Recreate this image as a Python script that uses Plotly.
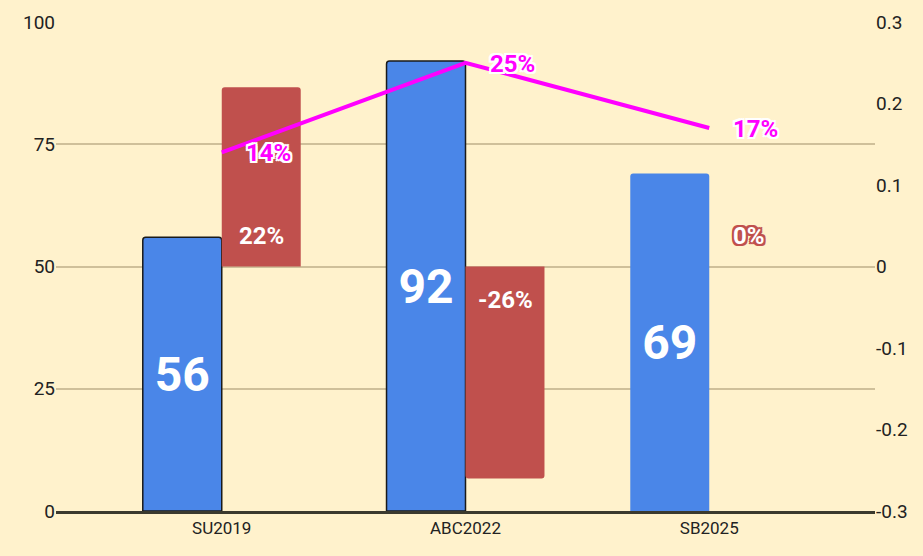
import plotly.graph_objects as go

categories = ["SU2019", "ABC2022", "SB2025"]
counts = [56, 92, 69]
changes = [0.22, -0.26, 0.0]
shares = [0.14, 0.25, 0.17]

left_ticks = [0, 25, 50, 75, 100]
right_ticks = [-0.3, -0.2, -0.1, 0, 0.1, 0.2, 0.3]
right_labels = ["-0.3", "-0.2", "-0.1", "0", "0.1", "0.2", "0.3"]

FONT = "Roboto, Liberation Sans Narrow, sans-serif"
BG = "#FFF2CC"
BLUE = "#4A86E8"
RED = "#C0504D"
MAGENTA = "#FF00FF"
W = 0.324


def outline(c, w=1):
    return ", ".join(f"{dx}px {dy}px 0 {c}" for dx in (-w, 0, w) for dy in (-w, 0, w) if dx or dy)


fig = go.Figure()

fig.add_trace(go.Bar(
    x=categories, y=counts, yaxis="y",
    width=W, offset=-W,
    marker=dict(color=BLUE, line=dict(color="#1a1a1a", width=[1.5, 1.5, 0])),
    text=[str(v) for v in counts], textposition="inside", insidetextanchor="middle",
    textfont=dict(family=FONT, size=48, color="white", weight="bold"),
    showlegend=False, hoverinfo="skip",
))

fig.add_trace(go.Bar(
    x=categories, y=changes, yaxis="y2",
    width=W, offset=0,
    marker=dict(color=RED, line=dict(width=0)),
    showlegend=False, hoverinfo="skip",
))

fig.add_trace(go.Scatter(
    x=categories, y=shares, yaxis="y2", mode="lines",
    line=dict(color=MAGENTA, width=4),
    showlegend=False, hoverinfo="skip",
))

# labels for the change bars, near the bar base
for cat, v in zip(categories, changes):
    lab = f"{round(v * 100):d}%"
    if v == 0:
        font = dict(family=FONT, size=24, color="white", weight="bold", shadow=outline(RED, 2))
    else:
        font = dict(family=FONT, size=24, color="white", weight="bold")
    fig.add_annotation(
        x=cat, y=0, xref="x", yref="y2", text=lab, showarrow=False,
        xshift=40, yshift=31 if v >= 0 else -33, font=font,
    )

# labels for the line, to the right of each point
for cat, v in zip(categories, shares):
    fig.add_annotation(
        x=cat, y=v, xref="x", yref="y2", text=f"{round(v * 100):d}%", showarrow=False,
        xanchor="left", xshift=22, yshift=-1,
        font=dict(family=FONT, size=24, color=MAGENTA, weight="bold", shadow=outline("white", 2)),
    )

fig.update_layout(
    width=923, height=556,
    paper_bgcolor=BG, plot_bgcolor=BG,
    margin=dict(l=56, r=48, t=22, b=45),
    barcornerradius=3,
    font=dict(family=FONT, size=18, color="#222222"),
    xaxis=dict(
        range=[-0.68, 2.68], showgrid=False, zeroline=False,
        showline=True, linecolor="#3b3a2e", linewidth=2.5,
        ticks="", tickfont=dict(size=17), automargin=False,
    ),
    yaxis=dict(
        range=[0, 100], tickvals=left_ticks, showgrid=True,
        gridcolor="#CFC09A", gridwidth=2, zeroline=False, showline=False,
        ticks="", tickfont=dict(size=19), automargin=False,
    ),
    yaxis2=dict(
        range=[-0.3, 0.3], overlaying="y", side="right",
        tickvals=right_ticks, ticktext=right_labels,
        showgrid=False, zeroline=False, showline=False,
        ticks="", tickfont=dict(size=19), automargin=False,
    ),
)

fig.write_html(
    "out.html",
    config={"displayModeBar": False},
    post_script="document.body.style.margin='0';document.body.style.background='" + BG + "';",
)
